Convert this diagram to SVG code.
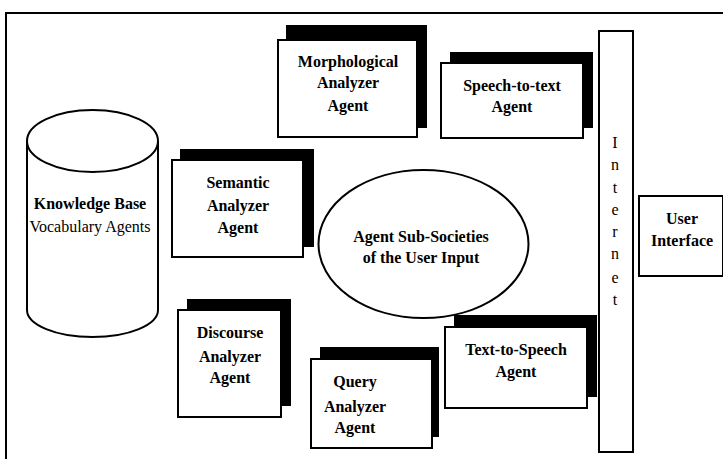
<svg xmlns="http://www.w3.org/2000/svg" width="723" height="459" viewBox="0 0 723 459">
<style>
.bg{fill:#fff}
.shadow{fill:#000}
.box{fill:#fff;stroke:#000;stroke-width:2}
.ln{fill:none;stroke:#000;stroke-width:2}
.t{font-family:"Liberation Serif","Times New Roman",serif;font-size:16px;font-weight:bold;text-anchor:middle;fill:#000}
.r{font-family:"Liberation Serif","Times New Roman",serif;font-size:16px;text-anchor:middle;fill:#000}
</style>
<rect class="bg" x="0" y="0" width="723" height="459"/>
<path id="frame" class="ln" d="M6,459 L6,13 L723,13"/>
<g id="connectors"></g>
<g id="knowledge-base">
<path class="box" d="M27,141 L27,310 A65.5,27 0 0 0 158,310 L158,141"/>
<ellipse class="box" cx="92.5" cy="141" rx="65.5" ry="31"/>
<text class="t" x="90" y="209">Knowledge Base</text>
<text class="r" x="90" y="232">Vocabulary Agents</text>
</g>
<g id="morphological">
<rect class="shadow" x="286" y="25" width="141" height="103"/>
<rect class="box" x="278" y="40" width="139" height="97"/>
<text class="t" x="348" y="67">Morphological</text>
<text class="t" x="348" y="88">Analyzer</text>
<text class="t" x="348" y="111">Agent</text>
</g>
<g id="speech-to-text">
<rect class="shadow" x="450" y="52" width="143" height="76"/>
<rect class="box" x="441" y="63" width="142" height="75"/>
<text class="t" x="512" y="91">Speech-to-text</text>
<text class="t" x="512" y="112">Agent</text>
</g>
<g id="semantic">
<rect class="shadow" x="180" y="149" width="134" height="98"/>
<rect class="box" x="172" y="160" width="131" height="97"/>
<text class="t" x="238" y="188">Semantic</text>
<text class="t" x="238" y="211">Analyzer</text>
<text class="t" x="238" y="233">Agent</text>
</g>
<g id="sub-societies">
<ellipse class="box" cx="423.5" cy="244" rx="105" ry="74"/>
<text class="t" x="421" y="242">Agent Sub-Societies</text>
<text class="t" x="421" y="263">of the User Input</text>
</g>
<g id="discourse">
<rect class="shadow" x="187" y="299" width="104" height="107"/>
<rect class="box" x="178" y="310" width="103" height="107"/>
<text class="t" x="230" y="338">Discourse</text>
<text class="t" x="230" y="362">Analyzer</text>
<text class="t" x="230" y="383">Agent</text>
</g>
<g id="query">
<rect class="shadow" x="320" y="347" width="119" height="90"/>
<rect class="box" x="311" y="359" width="121" height="89"/>
<text class="t" x="355" y="387">Query</text>
<text class="t" x="355" y="412">Analyzer</text>
<text class="t" x="355" y="433">Agent</text>
</g>
<g id="text-to-speech">
<rect class="shadow" x="454" y="315" width="143" height="82"/>
<rect class="box" x="445" y="327" width="142" height="81"/>
<text class="t" x="516" y="355">Text-to-Speech</text>
<text class="t" x="516" y="377">Agent</text>
</g>
<g id="internet">
<rect class="box" x="599" y="31" width="34" height="421"/>
<text class="r" x="615" y="148">I</text>
<text class="r" x="615" y="170">n</text>
<text class="r" x="615" y="193">t</text>
<text class="r" x="615" y="215">e</text>
<text class="r" x="615" y="237">r</text>
<text class="r" x="615" y="259">n</text>
<text class="r" x="615" y="283">e</text>
<text class="r" x="615" y="305">t</text>
</g>
<g id="user-interface">
<rect class="box" x="639" y="196" width="84" height="80"/>
<text class="t" x="682" y="224">User</text>
<text class="t" x="682" y="246">Interface</text>
</g>
</svg>
